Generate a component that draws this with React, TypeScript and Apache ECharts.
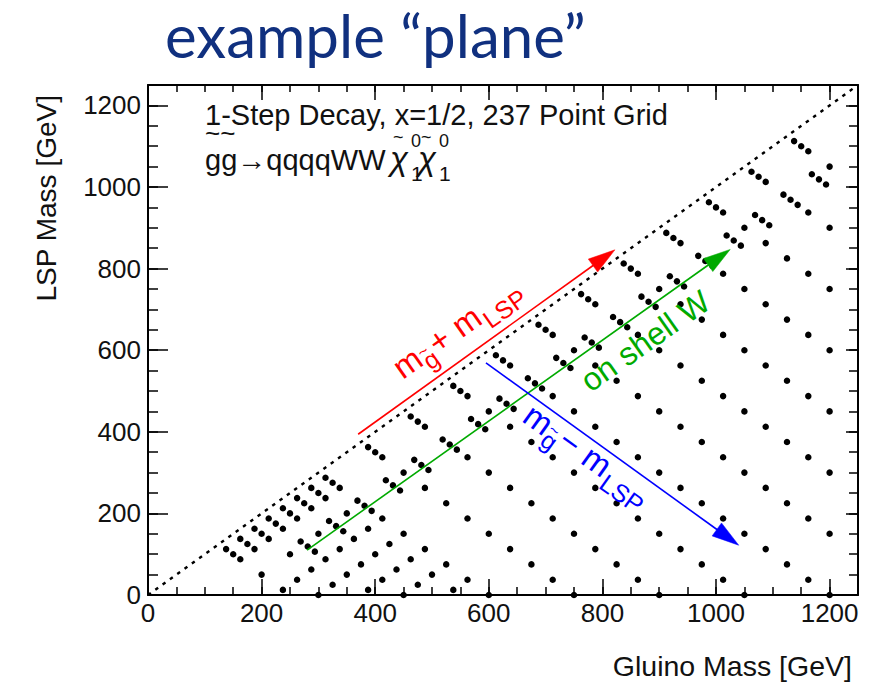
import React, { useEffect, useRef } from "react";
import * as echarts from "echarts";

// ---------------- data ----------------
// compressed points close to the diagonal (three per group)
const compressedPoints: [number, number][] = [
  [137.5, 112.5], [150, 100], [162.5, 87.5],
  [162.5, 137.5], [175, 125], [187.5, 112.5],
  [187.5, 162.5], [200, 150], [212.5, 137.5],
  [212.5, 187.5], [225, 175], [237.5, 162.5],
  [237.5, 212.5], [250, 200], [262.5, 187.5],
  [262.5, 237.5], [275, 225], [287.5, 212.5],
  [287.5, 262.5], [300, 250], [312.5, 237.5],
  [312.5, 287.5], [325, 275], [337.5, 262.5],
  [387.5, 362.5], [400, 350], [412.5, 337.5],
  [462.5, 437.5], [475, 425], [487.5, 412.5],
  [537.5, 512.5], [550, 500], [562.5, 487.5],
  [612.5, 587.5], [625, 575], [637.5, 562.5],
  [687.5, 662.5], [700, 650], [712.5, 637.5],
  [762.5, 737.5], [775, 725], [787.5, 712.5],
  [837.5, 812.5], [850, 800], [862.5, 787.5],
  [912.5, 887.5], [925, 875], [937.5, 862.5],
  [987.5, 962.5], [1000, 950], [1012.5, 937.5],
  [1062.5, 1037.5], [1075, 1025], [1087.5, 1012.5],
  [1137.5, 1112.5], [1150, 1100], [1162.5, 1087.5],
];

// groups of three around the on-shell W threshold
const thresholdPoints: [number, number][] = [
  [268.75, 131.25], [281.25, 118.75], [293.75, 106.25],
  [318.75, 181.25], [331.25, 168.75], [343.75, 156.25],
  [368.75, 231.25], [381.25, 218.75], [393.75, 206.25],
  [418.75, 281.25], [431.25, 268.75], [443.75, 256.25],
  [468.75, 331.25], [481.25, 318.75], [493.75, 306.25],
  [518.75, 381.25], [531.25, 368.75], [543.75, 356.25],
  [568.75, 431.25], [581.25, 418.75], [593.75, 406.25],
  [618.75, 481.25], [631.25, 468.75], [643.75, 456.25],
  [668.75, 531.25], [681.25, 518.75], [693.75, 506.25],
  [718.75, 581.25], [731.25, 568.75], [743.75, 556.25],
  [768.75, 631.25], [781.25, 618.75], [793.75, 606.25],
  [818.75, 681.25], [831.25, 668.75], [843.75, 656.25],
  [868.75, 731.25], [881.25, 718.75], [893.75, 706.25],
  [918.75, 781.25], [931.25, 768.75], [943.75, 756.25],
  [968.75, 831.25], [981.25, 818.75], [993.75, 806.25],
  [1018.75, 881.25], [1031.25, 868.75], [1043.75, 856.25],
  [1068.75, 931.25], [1081.25, 918.75], [1093.75, 906.25],
  [1118.75, 981.25], [1131.25, 968.75], [1143.75, 956.25],
  [1168.75, 1031.25], [1181.25, 1018.75], [1193.75, 1006.25],
];

// the regular grid of single points
const gridPoints: [number, number][] = [
  [200, 50], [237.5, 12.5],
  [262.5, 37.5], [300, 0],
  [250, 100], [287.5, 62.5], [325, 25],
  [312.5, 87.5], [350, 50], [387.5, 12.5],
  [300, 150], [337.5, 112.5], [375, 75], [412.5, 37.5], [450, 0],
  [362.5, 137.5], [400, 100], [437.5, 62.5], [475, 25],
  [350, 200], [387.5, 162.5], [425, 125], [462.5, 87.5], [500, 50], [537.5, 12.5],
  [412.5, 187.5], [450, 150], [487.5, 112.5], [525, 75], [562.5, 37.5], [600, 0],
  [450, 300], [487.5, 262.5], [525, 225], [562.5, 187.5], [600, 150], [637.5, 112.5], [675, 75], [712.5, 37.5], [750, 0],
  [562.5, 337.5], [600, 300], [637.5, 262.5], [675, 225], [712.5, 187.5], [750, 150], [787.5, 112.5], [825, 75], [862.5, 37.5], [900, 0],
  [600, 450], [637.5, 412.5], [675, 375], [712.5, 337.5], [750, 300], [787.5, 262.5], [825, 225], [862.5, 187.5], [900, 150], [937.5, 112.5], [975, 75], [1012.5, 37.5], [1050, 0],
  [712.5, 487.5], [750, 450], [787.5, 412.5], [825, 375], [862.5, 337.5], [900, 300], [937.5, 262.5], [975, 225], [1012.5, 187.5], [1050, 150], [1087.5, 112.5], [1125, 75], [1162.5, 37.5], [1200, 0],
  [750, 600], [787.5, 562.5], [825, 525], [862.5, 487.5], [900, 450], [937.5, 412.5], [975, 375], [1012.5, 337.5], [1050, 300], [1087.5, 262.5], [1125, 225], [1162.5, 187.5], [1200, 150],
  [862.5, 637.5], [900, 600], [937.5, 562.5], [975, 525], [1012.5, 487.5], [1050, 450], [1087.5, 412.5], [1125, 375], [1162.5, 337.5], [1200, 300],
  [900, 750], [937.5, 712.5], [975, 675], [1012.5, 637.5], [1050, 600], [1087.5, 562.5], [1125, 525], [1162.5, 487.5], [1200, 450],
  [1012.5, 787.5], [1050, 750], [1087.5, 712.5], [1125, 675], [1162.5, 637.5], [1200, 600],
  [1050, 900], [1087.5, 862.5], [1125, 825], [1162.5, 787.5], [1200, 750],
  [1162.5, 937.5], [1200, 900],
  [1200, 1050],
];

const majorTicks = [0, 200, 400, 600, 800, 1000, 1200];
const axisMax = 1250;
const diagonal: [number, number][] = [[0, 0], [1250, 1250]];

// annotation arrows (data units): [start, tip]
const redArrow: [number, number][] = [[370, 394], [822, 846]];
const greenArrow: [number, number][] = [[280, 110], [1025, 847]];
const blueArrow: [number, number][] = [[595, 569], [1040, 122]];
// label anchors (data units)
const redLabelAnchor: [number, number] = [437, 550];
const blueLabelAnchor: [number, number] = [668, 450];
const greenLabelAnchor: [number, number] = [768, 517];

const FONT = "'Liberation Sans', Arial, Helvetica, sans-serif";
const RED = "#ff0000";
const GREEN = "#00aa00";
const BLUE = "#0000ff";
const INK = "#111111";

function txt(text: string, x: number, y: number, size: number, fill: string, extra: any = {}) {
  return {
    type: "text",
    x,
    y,
    z: 100,
    silent: true,
    rotation: extra.rotation || 0,
    style: {
      text,
      font: `${extra.fontStyle || ""} ${size}px ${extra.fontFamily || FONT}`,
      fill,
      align: extra.align || "left",
      textAlign: extra.align || "left",
      verticalAlign: "middle",
      textVerticalAlign: "middle",
    },
  };
}

export default function App() {
  const ref = useRef<HTMLDivElement>(null);

  useEffect(() => {
    const chart = echarts.init(ref.current!, null, { renderer: "svg" });
    const tickStyle = { color: "#000", width: 1.5 };
    const frame = { show: true, onZero: false, lineStyle: { color: "#000", width: 2 } };
    const noLine = { show: false, onZero: false };
    const mk = (pos: string, interval: number, len: number, labels: boolean, line: boolean, margin: number) => ({
      type: "value",
      position: pos,
      min: 0,
      max: axisMax,
      interval,
      axisLine: line ? frame : noLine,
      axisTick: { show: true, inside: true, length: len, lineStyle: tickStyle },
      splitLine: { show: false },
      axisLabel: labels
        ? {
            show: true,
            margin,
            color: INK,
            fontSize: 26,
            fontFamily: FONT,
            formatter: (v: number) => (majorTicks.includes(v) ? String(v) : ""),
          }
        : { show: false },
    });

    chart.setOption({
      animation: false,
      backgroundColor: "#ffffff",
      grid: { left: 148, top: 85, width: 710, height: 510, containLabel: false },
      xAxis: [
        mk("bottom", 200, 16, true, true, 5),
        mk("bottom", 50, 8, false, false, 0),
        mk("top", 200, 15, false, true, 0),
        mk("top", 50, 7, false, false, 0),
      ],
      yAxis: [
        mk("left", 200, 20, true, true, 7),
        mk("left", 50, 10, false, false, 0),
        mk("right", 200, 12, false, true, 0),
        mk("right", 50, 9, false, false, 0),
      ],
      series: [
        {
          type: "line",
          data: diagonal,
          showSymbol: false,
          silent: true,
          z: 1,
          lineStyle: { color: "#000", width: 2.4, type: [3.5, 5.5] },
        },
        ...[compressedPoints, thresholdPoints, gridPoints].map((d) => ({
          type: "scatter",
          data: d,
          symbol: "circle",
          symbolSize: 6.5,
          silent: true,
          z: 3,
          itemStyle: { color: "#000", opacity: 1 },
        })),
      ],
    });

    const px = (p: [number, number]) => chart.convertToPixel({ gridIndex: 0 }, p) as number[];

    const arrow = (a: [number, number][], color: string) => {
      const s = px(a[0]);
      const t = px(a[1]);
      const dx = t[0] - s[0];
      const dy = t[1] - s[1];
      const len = Math.hypot(dx, dy);
      const ux = dx / len;
      const uy = dy / len;
      const L = 27;
      const W = 8;
      const bx = t[0] - L * ux;
      const by = t[1] - L * uy;
      return [
        {
          type: "polyline",
          z: 90,
          silent: true,
          shape: { points: [s, [bx + ux * 4, by + uy * 4]] },
          style: { stroke: color, lineWidth: 1.6, fill: null },
        },
        {
          type: "polygon",
          z: 91,
          silent: true,
          shape: { points: [t, [bx - uy * W, by + ux * W], [bx + uy * W, by - ux * W]] },
          style: { fill: color, stroke: color, lineWidth: 0.5 },
        },
      ];
    };

    const massLabel = (anchor: [number, number], rot: number, sign: string, color: string) => {
      const p = px(anchor);
      return {
        type: "group",
        x: p[0],
        y: p[1],
        rotation: rot,
        z: 100,
        children: [
          txt("m", 0, 0, 33, color),
          txt("g", 28, 11, 25, color),
          txt("~", 28, 0, 17, color),
          txt(sign, 43, 0, 33, color),
          txt("m", 72, 0, 33, color),
          txt("LSP", 101, 12, 25, color),
        ],
      };
    };

    const g = px(greenLabelAnchor);
    const chi = { fontFamily: FONT, fontStyle: "italic" };

    chart.setOption({
      graphic: [
        txt("example \u201cplane\u201d", 165, 35, 60, "#10307f", { fontFamily: "Lato, 'Open Sans', sans-serif" }),
        txt("1-Step Decay, x=1/2, 237 Point Grid", 205, 115, 29, INK),
        txt("gg\u2192qqqqWW", 205, 160, 29, INK),
        txt("~~", 205, 133, 26, INK),
        txt("\u03c7", 390, 158, 33, INK, chi),
        txt("\u03c7", 418, 158, 33, INK, chi),
        txt("1", 411, 173, 21, INK),
        txt("1", 439, 173, 21, INK),
        txt("~", 393, 137, 18, INK),
        txt("0", 411, 141, 18, INK),
        txt("~", 421, 137, 18, INK),
        txt("0", 439, 141, 18, INK),
        txt("Gluino Mass [GeV]", 852, 666, 28.5, INK, { align: "right" }),
        txt("LSP Mass [GeV]", 46, 95, 28, INK, { align: "right", rotation: Math.PI / 2 }),
        ...arrow(redArrow, RED),
        ...arrow(greenArrow, GREEN),
        ...arrow(blueArrow, BLUE),
        massLabel(redLabelAnchor, 0.615, "+", RED),
        massLabel(blueLabelAnchor, -0.62, "\u2212", BLUE),
        {
          type: "group",
          x: g[0],
          y: g[1],
          rotation: 0.615,
          z: 100,
          children: [txt("on shell W", 0, 0, 32, GREEN)],
        },
      ],
    });

    return () => chart.dispose();
  }, []);

  return (
    <div
      ref={ref}
      style={{ position: "fixed", left: 0, top: 0, width: 869, height: 682, background: "#fff" }}
    />
  );
}
